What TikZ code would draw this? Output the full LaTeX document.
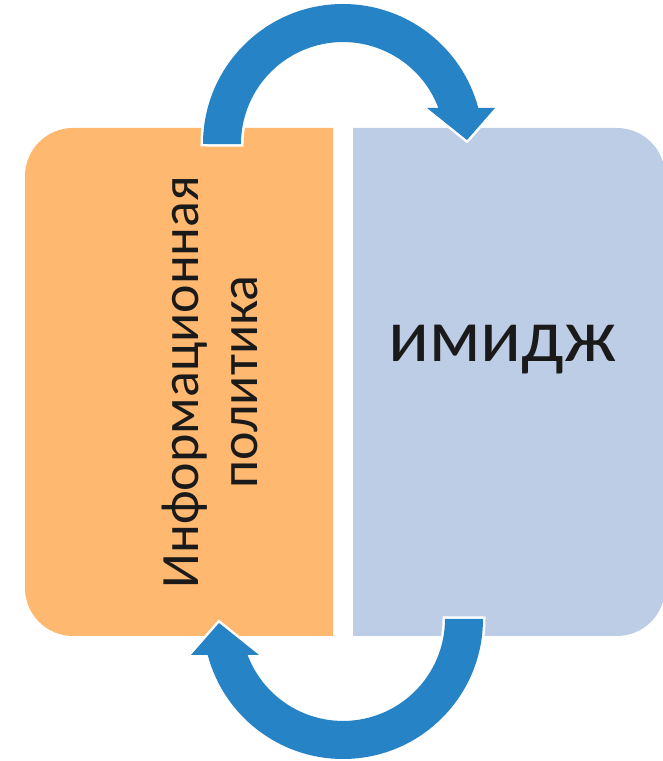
\documentclass[tikz,border=0pt]{standalone}
\usepackage{fontspec}
\setmainfont{Carlito}
\definecolor{boxorange}{RGB}{255,184,112}
\definecolor{boxblue}{RGB}{190,205,230}
\definecolor{arrowblue}{RGB}{38,132,198}
\definecolor{textdark}{RGB}{26,26,26}
\tikzset{
  blockarrow/.style={fill=arrowblue, preaction={draw=white, line width=5pt, line join=miter}},
  lefttext/.style={rotate=90, anchor=base, text=textdark, font=\fontsize{54pt}{60pt}\selectfont, inner sep=0pt},
  righttext/.style={anchor=base, text=textdark, font=\fontsize{76pt}{84pt}\selectfont, inner sep=0pt}
}
\begin{document}
\begin{tikzpicture}[x=1pt,y=1pt]
\useasboundingbox (0,0) rectangle (662,761);
% boxes
\fill[boxorange] (333,633) -- (73,633) arc[start angle=90,end angle=180,radius=48pt]
  -- (25,173) arc[start angle=180,end angle=270,radius=48pt] -- (333,125) -- cycle;
\fill[boxblue] (353,125) -- (617,125) arc[start angle=270,end angle=360,radius=48pt]
  -- (665,585) arc[start angle=0,end angle=90,radius=48pt] -- (353,633) -- cycle;
% top arrow
\path[blockarrow] (203,617) arc[start angle=180,end angle=14.9,radius=140pt]
  -- (495,653) -- (467,621) -- (427,653) -- (438.4,653)
  arc[start angle=20.7,end angle=180,radius=102pt] -- cycle;
% bottom arrow (top arrow turned half round)
\begin{scope}[rotate around={180:(343,379.5)}]
\path[blockarrow] (203,617) arc[start angle=180,end angle=14.9,radius=140pt]
  -- (495,653) -- (467,621) -- (427,653) -- (438.4,653)
  arc[start angle=20.7,end angle=180,radius=102pt] -- cycle;
\end{scope}
% texts
\node[lefttext] (l1) at (198,379) {Информационная};
\node[lefttext] (l2) at (257,379) {политика};
\node[righttext] (img) at (502.5,399) {имидж};
\end{tikzpicture}
\end{document}
